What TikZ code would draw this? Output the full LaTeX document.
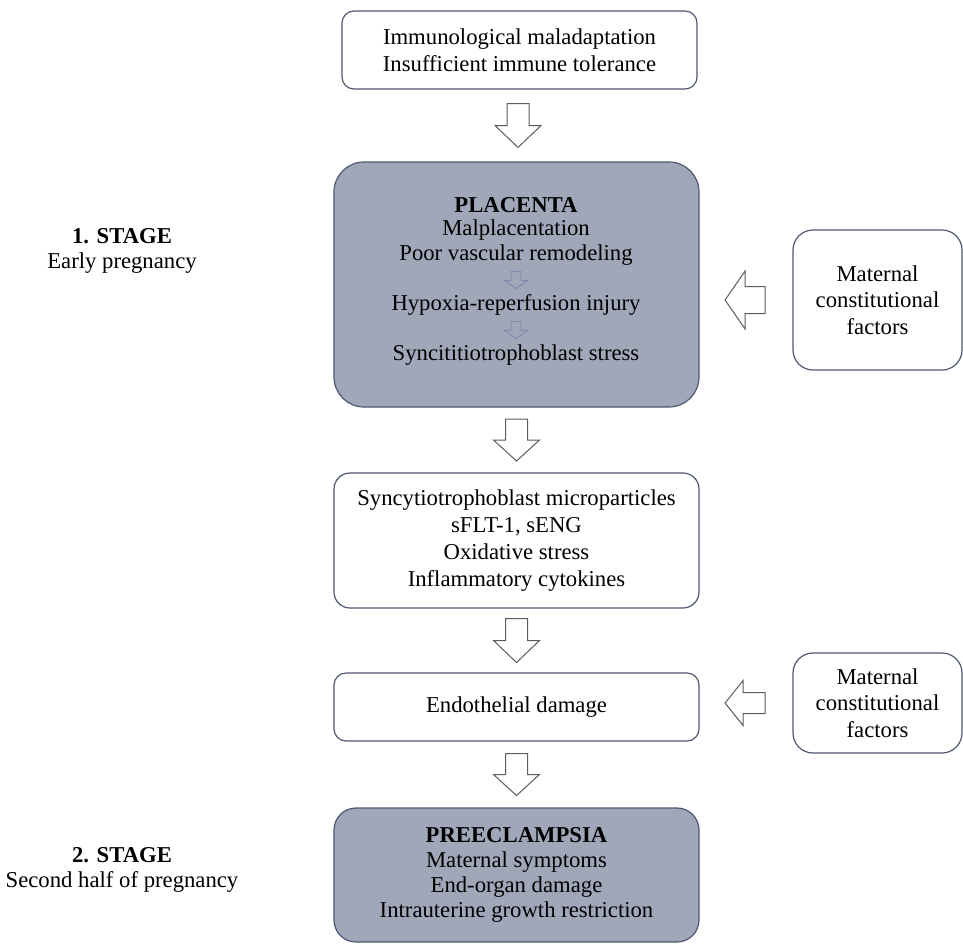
\documentclass[tikz,border=0pt]{standalone}
\usepackage{fontspec}
\setmainfont{Liberation Serif}
\usetikzlibrary{calc}
\definecolor{boxline}{HTML}{4E5870}
\definecolor{boxfill}{HTML}{A0A7B9}
\definecolor{arrline}{HTML}{5C5C5C}
\definecolor{smallarr}{HTML}{7A88AA}
\tikzset{
  box/.style={draw=boxline,line width=1.2pt,rounded corners=#1,align=center,inner sep=0pt,font=\fontsize{22.7}{27}\selectfont},
  box/.default=12pt,
  shaded/.style={fill=boxfill},
  txt/.style={font=\fontsize{22.7}{26}\selectfont,inner sep=0pt,align=center},
  bigarr/.style={draw=arrline,fill=white,line width=1pt,line join=miter},
  smallarrow/.style={draw=smallarr,fill=boxfill,line width=0.9pt,line join=miter}
}
% block arrow pointing down (y-down coords), centred on #1, rotated #2;
% #3 half shaft width, #4 half head width, #5 half length, #6 y of head base, #7 style
\newcommand\blockarrow[7]{%
  \path[#7,shift={(#1)},rotate=#2]
    (-#3,-#5) -- (#3,-#5) -- (#3,#6) -- (#4,#6) -- (0,#5) -- (-#4,#6) -- (-#3,#6) -- cycle;}
\begin{document}
\begin{tikzpicture}[x=1pt,y=-1pt]
\useasboundingbox (0,0) rectangle (963,945);
% main column
\node[box=12pt,minimum width=355pt,minimum height=78pt] (top) at (519.5,50)
  {Immunological maladaptation\\Insufficient immune tolerance};
\node[box=30pt,shaded,minimum width=365pt,minimum height=245pt] (plac) at (516.5,284.5) {};
\node[txt] (p1) at (516,205) {\textbf{PLACENTA}};
\node[txt] (p2) at (516,230) {Malplacentation};
\node[txt] (p3) at (516,255) {Poor vascular remodeling};
\node[txt] (p4) at (516,305) {Hypoxia-reperfusion injury};
\node[txt] (p5) at (516,355) {Syncititiotrophoblast stress};
\coordinate (s1) at ($(p3)!0.5!(p4)$);
\coordinate (s2) at ($(p4)!0.5!(p5)$);

\node[box=16pt,minimum width=365pt,minimum height=135pt] (mid) at (516.5,540.5)
  {Syncytiotrophoblast microparticles\\sFLT-1, sENG\\Oxidative stress\\Inflammatory cytokines};
\node[box=12pt,minimum width=365pt,minimum height=68pt] (endo) at (516.5,707) {Endothelial damage};
\node[box=22pt,shaded,minimum width=365pt,minimum height=134pt,font=\fontsize{22.7}{25}\selectfont] (pre) at (516.5,875)
  {\textbf{PREECLAMPSIA}\\Maternal symptoms\\End-organ damage\\Intrauterine growth restriction};

% right boxes
\node[box=20pt,minimum width=169pt,minimum height=140pt,font=\fontsize{22.7}{26.5}\selectfont] (mat1) at (877.5,300)
  {Maternal\\constitutional\\factors};
\node[box=20pt,minimum width=169pt,minimum height=100pt,font=\fontsize{22.7}{26.5}\selectfont] (mat2) at (877.5,703)
  {Maternal\\constitutional\\factors};

% stage labels
\node[txt,font=\fontsize{22.7}{24.5}\selectfont] (st1) at (122,251) {\textbf{1. STAGE}\\Early pregnancy};
\node[txt,font=\fontsize{22.7}{24.5}\selectfont] (st2) at (122,870) {\textbf{2. STAGE}\\Second half of pregnancy};

% block arrows
\coordinate (a1) at ($(top.south)!0.5!(plac.north)$);
\coordinate (a2) at ($(plac.south)!0.5!(mid.north)$);
\coordinate (a3) at ($(mid.south)!0.5!(endo.north)$);
\coordinate (a4) at ($(endo.south)!0.5!(pre.north)$);
\coordinate (l1) at ($(mat1.west)!0.51!(mat1.west-|plac.east)$);
\coordinate (l2) at ($(mat2.west)!0.51!(mat2.west-|endo.east)$);
\blockarrow{a1}{0}{11}{23}{22}{0}{bigarr}
\blockarrow{a2}{0}{11}{23}{21}{0}{bigarr}
\blockarrow{a3}{0}{11}{23}{22}{0}{bigarr}
\blockarrow{a4}{0}{11}{23}{21}{0}{bigarr}
\blockarrow{l1}{-90}{13.5}{29}{20}{0}{bigarr}
\blockarrow{l2}{-90}{10.5}{22.5}{20}{2}{bigarr}
\blockarrow{s1}{0}{5}{11.5}{8.5}{0.5}{smallarrow}
\blockarrow{s2}{0}{5}{11.5}{8.5}{0.5}{smallarrow}
\end{tikzpicture}
\end{document}
